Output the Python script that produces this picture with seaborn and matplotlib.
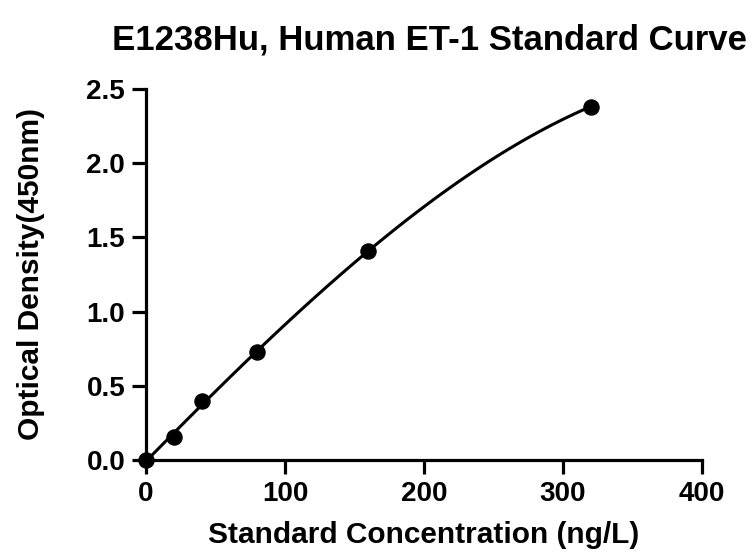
import numpy as np
import pandas as pd
import matplotlib
matplotlib.use('Agg')
import matplotlib.pyplot as plt
import seaborn as sns

# datos
concentracion = [0, 20, 40, 80, 160, 320]
densidad = [0.0, 0.155, 0.40, 0.725, 1.41, 2.38]
x_ticks = [0, 100, 200, 300, 400]
y_ticks = [0.0, 0.5, 1.0, 1.5, 2.0, 2.5]

titulo = 'E1238Hu, Human ET-1 Standard Curve'
etiqueta_x = 'Standard Concentration (ng/L)'
etiqueta_y = 'Optical Density(450nm)'


def grafico_curva(df, filename):
    sns.set_style('ticks')
    plt.rcParams['font.family'] = ['Liberation Sans', 'DejaVu Sans']
    plt.rcParams['font.weight'] = 'bold'
    plt.rcParams['text.color'] = 'black'
    plt.rcParams['axes.labelcolor'] = 'black'

    fig = plt.figure(figsize=(7.53, 5.55), dpi=100)
    ax = fig.add_axes([0.194, 0.171, 0.738, 0.669])

    # curva ajustada por seaborn
    sns.regplot(data=df, x='conc', y='od', order=3, ci=None, ax=ax,
                scatter=False, line_kws={'color': 'black', 'lw': 2.2})
    sns.scatterplot(data=df, x='conc', y='od', ax=ax, color='black',
                    s=120, edgecolor='black', zorder=5, clip_on=False)

    ax.set_xlim(0, 400)
    ax.set_ylim(0, 2.5)
    ax.set_xticks(x_ticks)
    ax.set_yticks(y_ticks)
    ax.set_xticklabels([str(t) for t in x_ticks])
    ax.set_yticklabels([f'{t:.1f}' for t in y_ticks])
    ax.tick_params(width=2.3, length=10, labelsize=20, colors='black', pad=5)
    for s in ['left', 'bottom']:
        ax.spines[s].set_linewidth(2.3)
        ax.spines[s].set_color('black')
    sns.despine(ax=ax)

    ax.set_title(titulo, fontsize=25, fontweight='bold', pad=28, x=0.51,
                 color='black')
    ax.set_xlabel(etiqueta_x, fontsize=21.5, fontweight='bold', labelpad=10)
    ax.set_ylabel(etiqueta_y, fontsize=21.5, fontweight='bold', labelpad=30)

    fig.savefig(filename, dpi=100)
    plt.close(fig)


df = pd.DataFrame({'conc': concentracion, 'od': densidad})
grafico_curva(df, 'out.png')
